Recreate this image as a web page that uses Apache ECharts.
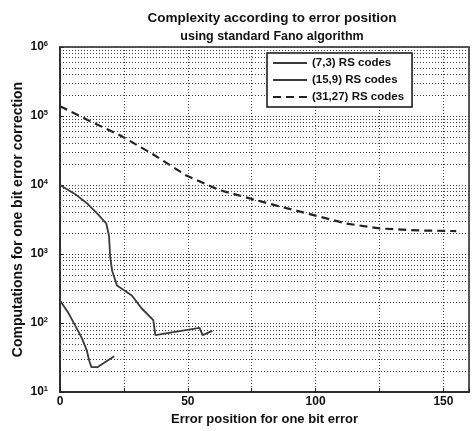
<!DOCTYPE html>
<html>
<head>
<meta charset="utf-8">
<script src="https://cdn.jsdelivr.net/npm/echarts@6/dist/echarts.min.js"></script>
<style>html,body{margin:0;padding:0;background:#fff;}#c{width:472px;height:431px;}</style>
</head>
<body>
<div id="c"></div>
<script>
// Data
const xTicks = [0, 50, 100, 150];
const rs73X = [0, 3.1, 5.8, 8.5, 10.4, 11.5, 12.3, 14.6, 21.2];
const rs73Y = [213, 144, 94, 61, 41, 28, 23, 23, 33];
const rs159X = [0, 5.8, 10.8, 14.6, 18.1, 19.2, 19.6, 20.4, 22.3, 28.1, 31.9, 36.5, 37.3, 54.6, 55.8, 59.6];
const rs159Y = [10000, 7440, 5350, 3850, 2770, 1810, 936, 572, 349, 251, 164, 110, 67, 85, 67, 77];
const rs3127X = [0, 10.8, 23.8, 36.5, 49.2, 62.3, 69.2, 85, 100, 112, 125, 140, 155];
const rs3127Y = [139000, 87700, 51800, 27700, 13900, 8480, 7200, 5000, 3610, 2770, 2350, 2200, 2150];
const seriesNames = ['(7,3) RS codes', '(15,9) RS codes', '(31,27) RS codes'];
const minorGrid = [];
[10, 100, 1000, 10000, 100000].forEach(function (d) {
  for (let k = 2; k <= 9; k++) minorGrid.push(k * d);
});

function zip(xs, ys) { return xs.map(function (x, i) { return [x, ys[i]]; }); }

const font = 'Liberation Sans, Arial, Helvetica, sans-serif';
const lineColor = '#3a3a3a';
const gridLine = { color: '#444', type: [1, 2], width: 1 };

const chart = echarts.init(document.getElementById('c'), null, { renderer: 'canvas' });
chart.setOption({
  animation: false,
  backgroundColor: '#fff',
  title: [{
    text: 'Complexity according to error position',
    left: 267, top: 6, textAlign: 'center',
    textStyle: { fontFamily: font, fontSize: 13.5, fontWeight: 'bold', color: '#111' }
  }, {
    text: 'using standard Fano algorithm',
    left: 267, top: 25, textAlign: 'center',
    textStyle: { fontFamily: font, fontSize: 12.5, fontWeight: 'bold', color: '#111' }
  }],
  legend: {
    orient: 'vertical', left: 267, top: 53, z: 20,
    data: seriesNames,
    backgroundColor: '#fff',
    borderColor: '#111', borderWidth: 1.5,
    padding: [4, 8, 4, 5],
    itemGap: 5, itemWidth: 34, itemHeight: 13,
    itemStyle: { opacity: 0 },
    textStyle: { fontFamily: font, fontSize: 11.5, fontWeight: 'bold', color: '#111' }
  },
  grid: {
    left: 60, top: 47, width: 416, height: 350,
    show: true, borderColor: '#222', borderWidth: 1.5, backgroundColor: 'transparent'
  },
  xAxis: {
    type: 'value', min: 0, max: 160, interval: 25,
    name: 'Error position for one bit error', nameLocation: 'middle', nameGap: 16,
    nameTextStyle: { fontFamily: font, fontSize: 13, fontWeight: 'bold', color: '#111' },
    axisLine: { show: true, lineStyle: { color: '#222', width: 1.5 } },
    axisTick: { show: true, inside: true, length: 4, lineStyle: { color: '#222' } },
    axisLabel: {
      fontFamily: font, fontSize: 12, fontWeight: 'bold', color: '#111', margin: 4,
      formatter: function (v) { return xTicks.indexOf(v) >= 0 ? String(v) : ''; }
    },
    splitLine: { show: true, lineStyle: gridLine }
  },
  yAxis: {
    type: 'log', logBase: 10, min: 10, max: 1000000,
    name: 'Computations for one bit error correction', nameLocation: 'middle', nameGap: 35,
    nameMoveOverlap: false,
    nameTextStyle: { fontFamily: font, fontSize: 14, fontWeight: 'bold', color: '#111' },
    axisLine: { show: true, lineStyle: { color: '#222', width: 1.5 } },
    axisTick: { show: true, inside: true, length: 4, lineStyle: { color: '#222' } },
    axisLabel: {
      margin: 12,
      formatter: function (v) {
        const e = Math.round(Math.log10(v));
        return '{b|10}{s|' + e + '}';
      },
      rich: {
        b: { fontFamily: font, fontSize: 12, fontWeight: 'bold', color: '#111', lineHeight: 14 },
        s: { fontFamily: font, fontSize: 7.5, fontWeight: 'bold', color: '#111', verticalAlign: 'top', lineHeight: 14, padding: [0, 0, 6, 0] }
      }
    },
    splitLine: { show: true, lineStyle: gridLine }
  },
  series: [{
    name: seriesNames[0], type: 'line', symbol: 'none',
    data: zip(rs73X, rs73Y),
    lineStyle: { color: lineColor, width: 1.8, type: 'solid' },
    itemStyle: { color: lineColor },
    markLine: {
      silent: true, symbol: 'none', animation: false,
      label: { show: false },
      lineStyle: gridLine,
      emphasis: { disabled: true },
      data: minorGrid.map(function (v) { return { yAxis: v }; })
    },
    z: 3
  }, {
    name: seriesNames[1], type: 'line', symbol: 'none',
    data: zip(rs159X, rs159Y),
    lineStyle: { color: lineColor, width: 1.8, type: 'solid' },
    itemStyle: { color: lineColor },
    z: 3
  }, {
    name: seriesNames[2], type: 'line', symbol: 'none',
    data: zip(rs3127X, rs3127Y),
    lineStyle: { color: '#222', width: 2.2, type: [8, 5] },
    itemStyle: { color: '#222' },
    z: 3
  }]
});
</script>
</body>
</html>
